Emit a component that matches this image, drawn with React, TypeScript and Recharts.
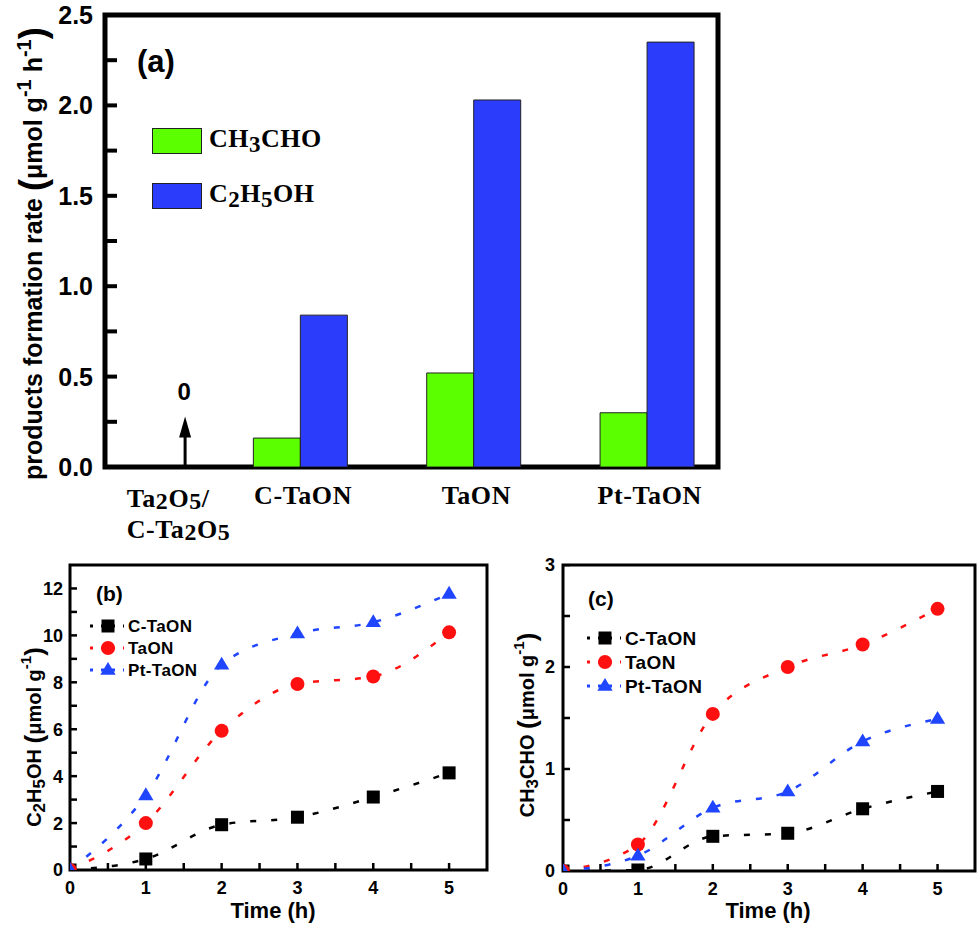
import React from 'react';
import {
  ComposedChart,
  Bar,
  Line,
  Scatter,
  XAxis,
  YAxis,
  ReferenceArea,
  ReferenceLine,
  ReferenceDot,
  Legend,
} from 'recharts';

const SANS = '"Liberation Sans", Arial, sans-serif';
const SERIF = '"Liberation Serif", "Times New Roman", serif';

// (a) products formation rate, umol g-1 h-1
const CATEGORIES = ['Ta2O5/C-Ta2O5', 'C-TaON', 'TaON', 'Pt-TaON'];
const CH3CHO_RATE = [0, 0.16, 0.52, 0.3];
const C2H5OH_RATE = [0, 0.84, 2.03, 2.35];
const RATE_TICKS = [0, 0.25, 0.5, 0.75, 1, 1.25, 1.5, 1.75, 2, 2.25, 2.5];

// (b) / (c) accumulated products vs time
const TIME_H = [0, 1, 2, 3, 4, 5];
const C2H5OH_C_TAON = [0, 0.47, 1.93, 2.25, 3.11, 4.14];
const C2H5OH_TAON = [0, 2.0, 5.93, 7.93, 8.25, 10.13];
const C2H5OH_PT_TAON = [0, 3.18, 8.75, 10.08, 10.56, 11.77];
const CH3CHO_C_TAON = [0, 0.01, 0.34, 0.37, 0.61, 0.78];
const CH3CHO_TAON = [0, 0.26, 1.54, 2.0, 2.22, 2.57];
const CH3CHO_PT_TAON = [0, 0.15, 0.62, 0.78, 1.27, 1.49];
const TIME_TICKS = [0, 0.5, 1, 1.5, 2, 2.5, 3, 3.5, 4, 4.5, 5];
const C2H5OH_TICKS = [0, 1, 2, 3, 4, 5, 6, 7, 8, 9, 10, 11, 12];
const CH3CHO_TICKS = [0, 0.5, 1, 1.5, 2, 2.5, 3];

// where the "0" arrow sits for the bare Ta2O5 samples (x in category units)
const ZERO_ARROW_X = 0.337;
const RATE_X_DOMAIN = [-0.125, 3.411];
const TIME_DOMAIN = [0, 5.5];

const rateRows = CATEGORIES.map((name, i) => ({
  idx: i,
  name,
  ch3cho: CH3CHO_RATE[i],
  c2h5oh: C2H5OH_RATE[i],
}));

const ethanolRows = TIME_H.map((t, i) => ({
  t,
  cTaON: C2H5OH_C_TAON[i],
  taON: C2H5OH_TAON[i],
  ptTaON: C2H5OH_PT_TAON[i],
}));

const acetaldehydeRows = TIME_H.map((t, i) => ({
  t,
  cTaON: CH3CHO_C_TAON[i],
  taON: CH3CHO_TAON[i],
  ptTaON: CH3CHO_PT_TAON[i],
}));

const SERIES = [
  { key: 'cTaON', name: 'C-TaON', color: '#000000', shape: 'square' },
  { key: 'taON', name: 'TaON', color: '#ff1010', shape: 'circle' },
  { key: 'ptTaON', name: 'Pt-TaON', color: '#1f45ff', shape: 'triangle' },
];

// digits become lowered subscripts inside svg text
function chem(text: string, shift: number, size = '85%') {
  const parts = text.split(/(\d)/).filter(Boolean);
  let lowered = false;
  return parts.map((part, i) => {
    const isDigit = /^\d$/.test(part);
    let dy = 0;
    if (isDigit && !lowered) dy = shift;
    if (!isDigit && lowered) dy = -shift;
    lowered = isDigit;
    return (
      <tspan key={i} dy={dy} fontSize={isDigit ? size : undefined}>
        {part}
      </tspan>
    );
  });
}

function Marker({ cx, cy, shape, color, size = 13 }: any) {
  if (cx == null || cy == null) return null;
  const h = size / 2;
  if (shape === 'square') {
    return <rect x={cx - h} y={cy - h} width={size} height={size} fill={color} />;
  }
  if (shape === 'circle') {
    return <circle cx={cx} cy={cy} r={h + 0.5} fill={color} />;
  }
  const r = size * 0.62;
  return (
    <polygon
      points={`${cx},${cy - r} ${cx - r * 0.95},${cy + r * 0.6} ${cx + r * 0.95},${cy + r * 0.6}`}
      fill={color}
    />
  );
}

// inward tick mark used as a scatter shape
function tickShape(dir: 'right' | 'up', len: number, sw: number) {
  return (p: any) => {
    const cx = Number(p.cx);
    const cy = Number(p.cy);
    if (!Number.isFinite(cx) || !Number.isFinite(cy)) return <g />;
    if (dir === 'right') {
      return <polygon points={`${cx},${cy - sw / 2} ${cx + len},${cy - sw / 2} ${cx + len},${cy + sw / 2} ${cx},${cy + sw / 2}`} fill="#000" />;
    }
    return <polygon points={`${cx - sw / 2},${cy} ${cx + sw / 2},${cy} ${cx + sw / 2},${cy - len} ${cx - sw / 2},${cy - len}`} fill="#000" />;
  };
}

function YLabel(props: any) {
  const { x, y, payload, fontSize, every } = props;
  const v = payload.value;
  if (Math.abs(v / every - Math.round(v / every)) > 1e-6) return null;
  return (
    <text x={x} y={y} dy="0.36em" textAnchor="end" fontFamily={SANS} fontWeight="bold" fontSize={fontSize} fill="#000">
      {every < 1 ? v.toFixed(1) : String(v)}
    </text>
  );
}

function XLabel(props: any) {
  const { x, y, payload, fontSize } = props;
  const v = payload.value;
  if (!Number.isInteger(v)) return null;
  return (
    <text x={x} y={y} dy="0.8em" textAnchor="middle" fontFamily={SANS} fontWeight="bold" fontSize={fontSize} fill="#000">
      {v}
    </text>
  );
}

function CategoryTick(props: any) {
  const { x, y, payload } = props;
  const name: string = CATEGORIES[payload.value] ?? '';
  const style = { fontFamily: SERIF, fontWeight: 'bold' as const, fontSize: 26, fill: '#000', letterSpacing: 0.6 };
  if (name.includes('/')) {
    const [first, second] = name.split('/');
    return (
      <g>
        <text x={x} y={Number(y) + 32} textAnchor="start" {...style}>
          {chem(first + '/', 2, '92%')}
        </text>
        <text x={x} y={Number(y) + 63} textAnchor="start" {...style}>
          {chem(second, 2, '92%')}
        </text>
      </g>
    );
  }
  return (
    <text x={Number(x) + 3} y={Number(y) + 29} textAnchor="middle" {...style}>
      {name}
    </text>
  );
}

function ArrowHead({ cx, cy }: any) {
  if (cx == null || cy == null) return null;
  return <polygon points={`${cx},${cy} ${cx - 6},${cy + 21} ${cx + 6},${cy + 21}`} fill="#000" />;
}

function ZeroText({ cx, cy }: any) {
  if (cx == null || cy == null) return null;
  return (
    <text x={cx - 1} y={cy + 9} textAnchor="middle" fontFamily={SANS} fontWeight="bold" fontSize={24} fill="#000">
      0
    </text>
  );
}

function RateLegend() {
  const rows = [
    { label: ['CH', '3', 'CHO'], fill: '#5cff00' },
    { label: ['C', '2', 'H', '5', 'OH'], fill: '#2b3dfb' },
  ];
  return (
    <div>
      {rows.map((r, i) => (
        <div key={i} style={{ display: 'flex', alignItems: 'center', height: 55 }}>
          <div style={{ width: 48, height: 24, background: r.fill, border: '1px solid #222' }} />
          <span
            style={{
              marginLeft: 7,
              fontFamily: SERIF,
              fontWeight: 'bold',
              fontSize: 26,
              letterSpacing: 0.5,
              color: '#000',
              lineHeight: 1,
            }}
          >
            {r.label.map((p, j) =>
              /^\d$/.test(p) ? (
                <sub key={j} style={{ fontSize: 23, verticalAlign: '-5px' }}>
                  {p}
                </sub>
              ) : (
                <span key={j}>{p}</span>
              )
            )}
          </span>
        </div>
      ))}
    </div>
  );
}

function SeriesLegend({ fontSize, rowHeight }: { fontSize: number; rowHeight: number }) {
  return (
    <div>
      {SERIES.map((s) => (
        <div key={s.key} style={{ display: 'flex', alignItems: 'center', height: rowHeight }}>
          <svg width={40} height={rowHeight} style={{ display: 'block' }}>
            <line
              x1={4}
              x2={38}
              y1={rowHeight / 2}
              y2={rowHeight / 2}
              stroke={s.color}
              strokeWidth={3}
              strokeDasharray="3 8"
            />
            <Marker cx={22} cy={rowHeight / 2} shape={s.shape} color={s.color} size={13} />
          </svg>
          <span
            style={{
              marginLeft: 2,
              fontFamily: SANS,
              fontWeight: 'bold',
              fontSize,
              letterSpacing: 0.4,
              color: '#000',
              lineHeight: 1,
            }}
          >
            {s.name}
          </span>
        </div>
      ))}
    </div>
  );
}

function RatePanel() {
  const yTickPts = RATE_TICKS.map((v) => ({ x: RATE_X_DOMAIN[0], y: v }));
  return (
    <ComposedChart
      width={740}
      height={560}
      data={rateRows}
      barGap={0}
      margin={{ top: 15, right: 22, bottom: 0, left: 0 }}
    >
      <XAxis
        type="number"
        dataKey="idx"
        domain={RATE_X_DOMAIN}
        allowDataOverflow
        ticks={[0, 1, 2, 3]}
        interval={0}
        height={93}
        axisLine={false}
        tickLine={false}
        tick={<CategoryTick />}
      />
      <XAxis xAxisId="tk" type="number" dataKey="x" domain={RATE_X_DOMAIN} allowDataOverflow hide />
      <YAxis
        type="number"
        domain={[0, 2.5]}
        allowDataOverflow
        ticks={RATE_TICKS}
        interval={0}
        width={105}
        tickSize={0}
        tickMargin={12}
        axisLine={false}
        tickLine={false}
        tick={(p: any) => <YLabel {...p} fontSize={25} every={0.5} />}
      />
      <ReferenceArea
        x1={RATE_X_DOMAIN[0]}
        x2={RATE_X_DOMAIN[1]}
        y1={0}
        y2={2.5}
        fill="none"
        fillOpacity={0}
        stroke="#000"
        strokeWidth={5}
      />
      <Bar dataKey="ch3cho" fill="#5cff00" stroke="#222" strokeWidth={1} barSize={47} isAnimationActive={false} />
      <Bar dataKey="c2h5oh" fill="#2b3dfb" stroke="#222" strokeWidth={1} barSize={47} isAnimationActive={false} />
      <Scatter
        xAxisId="tk"
        data={yTickPts}
        dataKey="y"
        shape={tickShape('right', 12, 4)}
        legendType="none"
        isAnimationActive={false}
      />
      <ReferenceLine
        segment={[
          { x: ZERO_ARROW_X, y: 0 },
          { x: ZERO_ARROW_X, y: 0.18 },
        ]}
        stroke="#000"
        strokeWidth={3}
      />
      <ReferenceDot x={ZERO_ARROW_X} y={0.279} shape={<ArrowHead />} />
      <ReferenceDot x={ZERO_ARROW_X} y={0.418} shape={<ZeroText />} />
      <Legend
        layout="vertical"
        align="center"
        verticalAlign="middle"
        wrapperStyle={{ left: 152, top: 113, width: 220, height: 110 }}
        content={() => <RateLegend />}
      />
      <text x={137} y={72} fontFamily={SANS} fontWeight="bold" fontSize={31} fill="#000">
        (a)
      </text>
      <text transform="translate(42,480) rotate(-90)" fontFamily={SANS} fontWeight="bold" fontSize={25} fill="#000">
        <tspan>products formation rate </tspan>
        <tspan fontSize={36} dy={3}>(</tspan>
        <tspan dy={-3}>μmol g</tspan>
        <tspan fontSize={20} dy={-11}>-1</tspan>
        <tspan dy={11}> h</tspan>
        <tspan fontSize={20} dy={-11}>-1</tspan>
        <tspan fontSize={36} dy={14}>)</tspan>
      </text>
    </ComposedChart>
  );
}

function TimePanel({
  rows,
  yDomain,
  yTicks,
  yLabelEvery,
  yAxisWidth,
  yTickMargin,
  width,
  rightMargin,
  bottomMargin,
  panel,
  panelX,
  panelY,
  yTitle,
  yTitleX,
  yTitleY,
  timeX,
  legendLeft,
  legendTop,
  legendFont,
  legendRow,
}: any) {
  const yTickPts = yTicks.map((v: number) => ({ t: TIME_DOMAIN[0], v }));
  const xTickPts = TIME_TICKS.map((t) => ({ t, v: yDomain[0] }));
  return (
    <ComposedChart
      width={width}
      height={386}
      data={rows}
      margin={{ top: 25, right: rightMargin, bottom: bottomMargin, left: 0 }}
    >
      <XAxis
        type="number"
        dataKey="t"
        domain={TIME_DOMAIN}
        allowDataOverflow
        ticks={TIME_TICKS}
        interval={0}
        height={40}
        tickSize={0}
        tickMargin={10}
        axisLine={false}
        tickLine={false}
        tick={(p: any) => <XLabel {...p} fontSize={18} />}
      />
      <YAxis
        type="number"
        domain={yDomain}
        allowDataOverflow
        ticks={yTicks}
        interval={0}
        width={yAxisWidth}
        tickSize={0}
        tickMargin={yTickMargin}
        axisLine={false}
        tickLine={false}
        tick={(p: any) => <YLabel {...p} fontSize={18} every={yLabelEvery} />}
      />
      <ReferenceArea
        x1={TIME_DOMAIN[0]}
        x2={TIME_DOMAIN[1]}
        y1={yDomain[0]}
        y2={yDomain[1]}
        fill="none"
        fillOpacity={0}
        stroke="#000"
        strokeWidth={3}
      />
      <Scatter data={yTickPts} dataKey="v" shape={tickShape('right', 7, 2.5)} legendType="none" isAnimationActive={false} />
      <Scatter data={xTickPts} dataKey="v" shape={tickShape('up', 7, 2.5)} legendType="none" isAnimationActive={false} />
      {SERIES.map((s) => (
        <Line
          key={s.key}
          type="monotone"
          dataKey={s.key}
          name={s.name}
          stroke={s.color}
          strokeWidth={2.5}
          strokeDasharray="6 15"
          dot={(p: any) => (
            <Marker key={`${s.key}-${p.index}`} cx={p.cx} cy={p.cy} shape={s.shape} color={s.color} size={13} />
          )}
          activeDot={false}
          isAnimationActive={false}
        />
      ))}
      <Legend
        layout="vertical"
        align="center"
        verticalAlign="middle"
        wrapperStyle={{ left: legendLeft, top: legendTop, width: 180, height: legendRow * 3 }}
        content={() => <SeriesLegend fontSize={legendFont} rowHeight={legendRow} />}
      />
      <text x={panelX} y={panelY} fontFamily={SANS} fontWeight="bold" fontSize={21} fill="#000">
        {panel}
      </text>
      <text
        transform={`translate(${yTitleX},${yTitleY}) rotate(-90)`}
        textAnchor="middle"
        fontFamily={SANS}
        fontWeight="bold"
        fontSize={20}
        fill="#000"
      >
        {chem(yTitle, 4)}
        <tspan fontSize={26} dy={2}>(</tspan>
        <tspan dy={-2}>μmol g</tspan>
        <tspan fontSize={15} dy={-10}>-1</tspan>
        <tspan fontSize={26} dy={12}>)</tspan>
      </text>
      <text x={timeX} y={378} textAnchor="middle" fontFamily={SANS} fontWeight="bold" fontSize={22} fill="#000">
        Time (h)
      </text>
    </ComposedChart>
  );
}

export default function App() {
  return (
    <div style={{ position: 'absolute', left: 0, top: 0, width: 980, height: 926, background: '#fff' }}>
      <div style={{ position: 'absolute', left: 0, top: 0 }}>
        <RatePanel />
      </div>
      <div style={{ position: 'absolute', left: 0, top: 540 }}>
        <TimePanel
          rows={ethanolRows}
          yDomain={[0, 13]}
          yTicks={C2H5OH_TICKS}
          yLabelEvery={2}
          yAxisWidth={70}
          yTickMargin={7}
          width={500}
          rightMargin={13}
          bottomMargin={16}
          panel="(b)"
          panelX={96}
          panelY={61}
          yTitle="C2H5OH "
          yTitleX={41}
          yTitleY={197}
          timeX={273}
          legendLeft={86}
          legendTop={75}
          legendFont={17}
          legendRow={22}
        />
      </div>
      <div style={{ position: 'absolute', left: 490, top: 540 }}>
        <TimePanel
          rows={acetaldehydeRows}
          yDomain={[0, 3]}
          yTicks={CH3CHO_TICKS}
          yLabelEvery={1}
          yAxisWidth={73}
          yTickMargin={8}
          width={490}
          rightMargin={5}
          bottomMargin={15}
          panel="(c)"
          panelX={98}
          panelY={66}
          yTitle="CH3CHO "
          yTitleX={44}
          yTitleY={185}
          timeX={278}
          legendLeft={93}
          legendTop={86}
          legendFont={19}
          legendRow={24}
        />
      </div>
    </div>
  );
}
